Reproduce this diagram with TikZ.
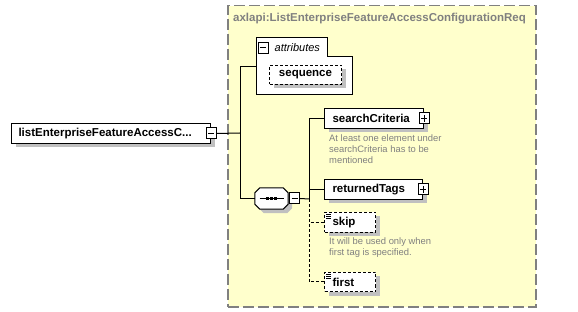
\documentclass[tikz,border=0pt]{standalone}
\usepackage{fontspec}
\setmainfont{Liberation Sans}
\usetikzlibrary{positioning, shadows}
\definecolor{groupFill}{RGB}{255,255,204}
\definecolor{groupBorder}{RGB}{128,128,128}
\definecolor{shadowGray}{RGB}{192,192,192}
\definecolor{noteGray}{RGB}{128,128,128}

\begin{document}
\begin{tikzpicture}[
    x=1pt, y=-1pt,
    group/.style={
        rectangle,
        draw=groupBorder,
        fill=groupFill,
        line width=1.5pt,
        dash pattern=on 11pt off 4pt,
        anchor=north west,
        inner sep=0pt
    },
    element/.style={
        rectangle,
        draw,
        fill=white,
        line width=1pt,
        anchor=north west,
        inner xsep=8pt,
        inner ysep=0pt,
        minimum height=20pt,
        font=\bfseries\fontsize{11.5}{13}\selectfont,
        drop shadow={shadow xshift=4pt, shadow yshift=-4pt, fill=shadowGray, opacity=1}
    },
    optional/.style={
        element,
        dash pattern=on 3pt off 2pt
    },
    minus/.style={
        rectangle,
        draw,
        fill=white,
        line width=1pt,
        minimum width=10pt,
        minimum height=11pt,
        inner sep=0pt,
        path picture={
            \draw[line width=1pt] ([xshift=2pt]path picture bounding box.west) -- ([xshift=-2pt]path picture bounding box.east);
        }
    },
    plus/.style={
        minus,
        path picture={
            \draw[line width=1pt] ([xshift=2pt]path picture bounding box.west) -- ([xshift=-2pt]path picture bounding box.east);
            \draw[line width=1pt] ([yshift=-2pt]path picture bounding box.north) -- ([yshift=2pt]path picture bounding box.south);
        }
    },
    note/.style={
        anchor=north west,
        inner sep=0pt,
        align=left,
        text=noteGray,
        font=\fontsize{9.4}{11}\selectfont
    },
    link/.style={
        line width=1pt
    }
]
    \useasboundingbox (0,0) rectangle (578,312);

    % complex type
    \node[group, minimum width=308pt, minimum height=301pt] (typeBox) at (227,5) {};
    \node[anchor=west, inner sep=0pt, text=groupBorder, font=\bfseries\fontsize{11.5}{13}\selectfont]
        (typeName) at ([xshift=6pt, yshift=-14pt]typeBox.north west) {axlapi:ListEnterpriseFeatureAccessConfigurationReq};

    % root element
    \node[element, text width=185pt, inner xsep=7pt] (root) at (11,123) {listEnterpriseFeatureAccessC...};
    \node[minus] (rootMinus) at (root.east) {};

    % attributes
    \coordinate (attrsTop) at (256,38);
    \coordinate (attrsIn) at (256,67);
    \draw[link, fill=white] (attrsTop) -- (327,38) -- (327,57) -- (352,57) -- (352,95) -- (256,95) -- cycle;
    \node[minus] (attrsMinus) at (263,48) {};
    \node[right=6pt of attrsMinus, inner sep=0pt, font=\itshape\fontsize{11}{12}\selectfont] (attrsLabel) {attributes};
    \node[optional, text width=56pt, inner xsep=8pt, align=center, minimum height=19pt] (sequence) at (269,65) {sequence};

    % sequence compositor
    \node[minimum width=33pt, minimum height=21pt, inner sep=0pt] (seqGroup) at (271.5,198.5) {};
    \fill[shadowGray] ([shift={(9,4)}]seqGroup.north west) -- ([shift={(-1,4)}]seqGroup.north east)
        -- ([shift={(4,9)}]seqGroup.north east) -- ([shift={(4,-1)}]seqGroup.south east)
        -- ([shift={(-1,4)}]seqGroup.south east) -- ([shift={(9,4)}]seqGroup.south west)
        -- ([shift={(4,-1)}]seqGroup.south west) -- ([shift={(4,9)}]seqGroup.north west) -- cycle;
    \draw[link, fill=white] ([shift={(5,0)}]seqGroup.north west) -- ([shift={(-5,0)}]seqGroup.north east)
        -- ([shift={(0,5)}]seqGroup.north east) -- ([shift={(0,-5)}]seqGroup.south east)
        -- ([shift={(-5,0)}]seqGroup.south east) -- ([shift={(5,0)}]seqGroup.south west)
        -- ([shift={(0,-5)}]seqGroup.south west) -- ([shift={(0,5)}]seqGroup.north west) -- cycle;
    \draw[link] ([xshift=-12pt]seqGroup.center) -- ([xshift=12pt]seqGroup.center);
    \foreach \dx in {-4,0,4}
        \fill ([xshift=\dx pt]seqGroup.center) +(-1.5,-1.5) rectangle +(1.5,1.5);
    \node[minus, right=1pt of seqGroup] (seqMinus) {};

    % child elements
    \node[element, text width=83pt] (searchCrit) at (324,108) {searchCriteria};
    \node[plus] (searchPlus) at (searchCrit.east) {};
    \node[note] (searchNote) at (329,134) {At least one element under\\searchCriteria has to be\\mentioned};

    \node[element, text width=82pt] (retTags) at (324,179) {returnedTags};
    \node[plus] (retPlus) at (retTags.east) {};

    \node[optional, text width=35pt] (skip) at (324,212) {skip};
    \node[note] (skipNote) at (329,237) {It will be used only when\\first tag is specified.};

    \node[optional, text width=35pt, minimum height=19pt] (first) at (324,272) {first};

    \foreach \n in {skip, first}
        \foreach \dy in {2,4,6}
            \draw[line width=0.8pt] ([xshift=2pt, yshift=-\dy pt]\n.north west) -- ++(5,0);

    % connectors
    \coordinate (rootFork) at (240,133);
    \coordinate (seqFork) at (309,199);
    \draw[link] (rootMinus.east) -- (rootFork);
    \draw[link] (rootFork) |- (attrsIn);
    \draw[link] (rootFork) |- (seqGroup.west);
    \draw[link] (seqMinus.east) -- (seqFork);
    \draw[link] (seqFork) |- (searchCrit.west);
    \draw[link] (seqFork) |- (retTags.west);
    \draw[link, dash pattern=on 3pt off 2pt] (seqFork) |- (skip.west);
    \draw[link, dash pattern=on 3pt off 2pt] (seqFork) |- (first.west);

\end{tikzpicture}
\end{document}
